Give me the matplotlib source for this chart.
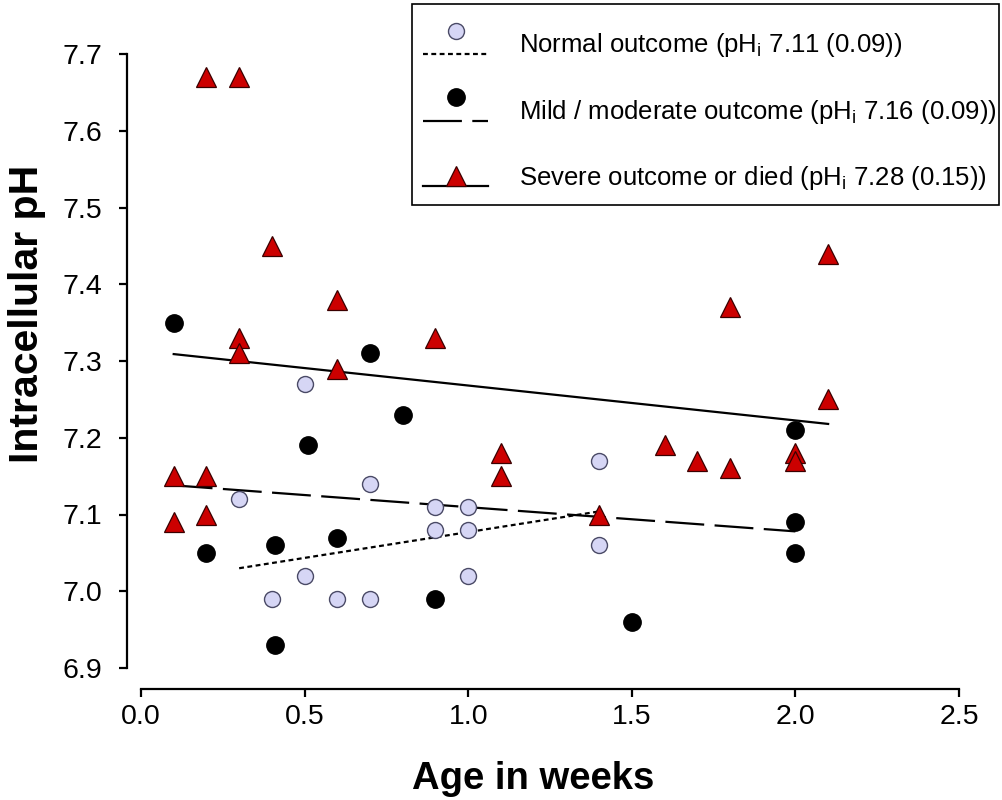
import numpy as np
import matplotlib
matplotlib.use("Agg")
import matplotlib.pyplot as plt
from matplotlib.lines import Line2D
from matplotlib.patches import Rectangle
from matplotlib.legend_handler import HandlerLine2DCompound

plt.rcParams['font.family'] = ['Liberation Sans', 'DejaVu Sans']
plt.rcParams['mathtext.fontset'] = 'custom'
plt.rcParams['mathtext.rm'] = 'Liberation Sans'
plt.rcParams['lines.scale_dashes'] = False

# data (age in weeks, intracellular pH)
normal_age = [0.3, 0.5, 0.7, 0.9, 1.0, 0.9, 1.0, 0.5, 0.4, 0.6, 0.7, 1.0, 1.4, 1.4]
normal_ph = [7.12, 7.27, 7.14, 7.11, 7.11, 7.08, 7.08, 7.02, 6.99, 6.99, 6.99, 7.02, 7.17, 7.06]

mild_age = [0.1, 0.7, 0.8, 0.51, 0.2, 0.41, 0.6, 0.9, 0.41, 1.5, 2.0, 2.0, 2.0]
mild_ph = [7.35, 7.31, 7.23, 7.19, 7.05, 7.06, 7.07, 6.99, 6.93, 6.96, 7.21, 7.09, 7.05]

severe_age = [0.2, 0.3, 0.4, 0.6, 0.3, 0.3, 0.9, 0.6, 0.1, 0.2, 0.1, 0.2,
              1.1, 1.1, 1.4, 1.6, 1.7, 1.8, 2.0, 2.0, 2.1, 1.8, 2.1]
severe_ph = [7.67, 7.67, 7.45, 7.38, 7.33, 7.31, 7.33, 7.29, 7.15, 7.15, 7.09, 7.10,
             7.18, 7.15, 7.10, 7.19, 7.17, 7.16, 7.18, 7.17, 7.44, 7.37, 7.25]

# fitted regression lines (end points)
normal_fit_x = [0.3, 1.4]
normal_fit_y = [7.03, 7.104]
mild_fit_x = [0.1, 2.0]
mild_fit_y = [7.138, 7.078]
severe_fit_x = [0.1, 2.1]
severe_fit_y = [7.309, 7.218]

labels = ['Normal outcome (pH$_{\\mathregular{i}}$ 7.11 (0.09))',
          'Mild / moderate outcome (pH$_{\\mathregular{i}}$ 7.16 (0.09))',
          'Severe outcome or died (pH$_{\\mathregular{i}}$ 7.28 (0.15))']

lav = '#d6d6f5'
red = '#cc0000'
dotted = (0, (3.5, 2.5))
longdash = (0, (28, 7.5))


class RaisedMarker(HandlerLine2DCompound):
    # line drawn a bit below the text, marker sitting on top of it
    def __init__(self, line_dy, marker_dy, **kw):
        super().__init__(**kw)
        self.line_dy = line_dy
        self.marker_dy = marker_dy

    def create_artists(self, legend, orig_handle, xdescent, ydescent,
                       width, height, fontsize, trans):
        line, marker = super().create_artists(legend, orig_handle, xdescent, ydescent,
                                              width, height, fontsize, trans)
        line.set_ydata(np.asarray(line.get_ydata()) + self.line_dy)
        marker.set_ydata(np.asarray(marker.get_ydata()) + self.marker_dy)
        return [line, marker]


fig = plt.figure(figsize=(10.02, 8), dpi=100)
ax = fig.add_axes([0.1407, 0.165, 0.8164, 0.7675])

ax.plot(normal_fit_x, normal_fit_y, color='black', lw=1.6, linestyle=dotted, zorder=2)
ax.plot(mild_fit_x, mild_fit_y, color='black', lw=1.6, linestyle=longdash, zorder=2)
ax.plot(severe_fit_x, severe_fit_y, color='black', lw=1.6, zorder=2)

ax.plot(normal_age, normal_ph, 'o', ms=11.5, mfc=lav, mec='#4a4a66', mew=1.0,
        linestyle='none', zorder=3, clip_on=False)
ax.plot(mild_age, mild_ph, 'o', ms=12.5, mfc='black', mec='black', mew=1.0,
        linestyle='none', zorder=3, clip_on=False)
ax.plot(severe_age, severe_ph, '^', ms=15, mfc=red, mec='#3a0000', mew=0.9,
        linestyle='none', zorder=4, clip_on=False)

ax.set_xlim(0, 2.5)
ax.set_ylim(6.9, 7.7)
ax.set_xticks([0.0, 0.5, 1.0, 1.5, 2.0, 2.5])
ax.set_xticklabels(['0.0', '0.5', '1.0', '1.5', '2.0', '2.5'])
ax.set_yticks(np.arange(6.9, 7.75, 0.1))
ax.set_yticklabels(['6.9', '7.0', '7.1', '7.2', '7.3', '7.4', '7.5', '7.6', '7.7'])

for s in ['top', 'right']:
    ax.spines[s].set_visible(False)
ax.spines['left'].set_position(('outward', 10))
ax.spines['bottom'].set_position(('outward', 15))
ax.spines['left'].set_linewidth(1.6)
ax.spines['bottom'].set_linewidth(1.6)
ax.tick_params(axis='both', direction='out', length=6, width=1.6, labelsize=20.5, colors='black')
ax.tick_params(axis='y', pad=12)
ax.tick_params(axis='x', pad=5)

ax.set_xlabel('Age in weeks', fontsize=27.5, fontweight='bold')
ax.xaxis.set_label_coords(533 / 1002, 1 - 761 / 800, transform=fig.transFigure)
ax.set_ylabel('Intracellular pH', fontsize=29.5, fontweight='bold')
ax.yaxis.set_label_coords(46 / 1002, 1 - 314 / 800, transform=fig.transFigure)

h_normal = Line2D([], [], color='black', lw=1.6, linestyle=dotted, marker='o', ms=11.5,
                  mfc=lav, mec='#4a4a66', mew=1.0)
h_mild = Line2D([], [], color='black', lw=1.6, linestyle=longdash, marker='o', ms=12.5,
                mfc='black', mec='black')
h_severe = Line2D([], [], color='black', lw=1.6, marker='^', ms=15,
                  mfc=red, mec='#3a0000', mew=0.9)

# legend contents without frame; the box is drawn separately (taller than wide padding)
leg = fig.legend([h_normal, h_mild, h_severe], labels,
                 loc='upper left', bbox_to_anchor=(423 / 1002, 1 - 31 / 800),
                 fontsize=18.5, frameon=False, borderaxespad=0, borderpad=0,
                 handlelength=2.53, handletextpad=1.2, labelspacing=1.5,
                 handler_map={h_normal: RaisedMarker(-8, 9),
                              h_mild: RaisedMarker(-8, 9),
                              h_severe: RaisedMarker(-7, 0)})
box = Rectangle((412 / 1002, 1 - 205 / 800), 587 / 1002, 201 / 800,
                transform=fig.transFigure, fill=True, facecolor='white',
                edgecolor='black', lw=1.2, zorder=5)
fig.patches.append(box)
leg.set_zorder(6)

fig.savefig('out.png', dpi=100)
